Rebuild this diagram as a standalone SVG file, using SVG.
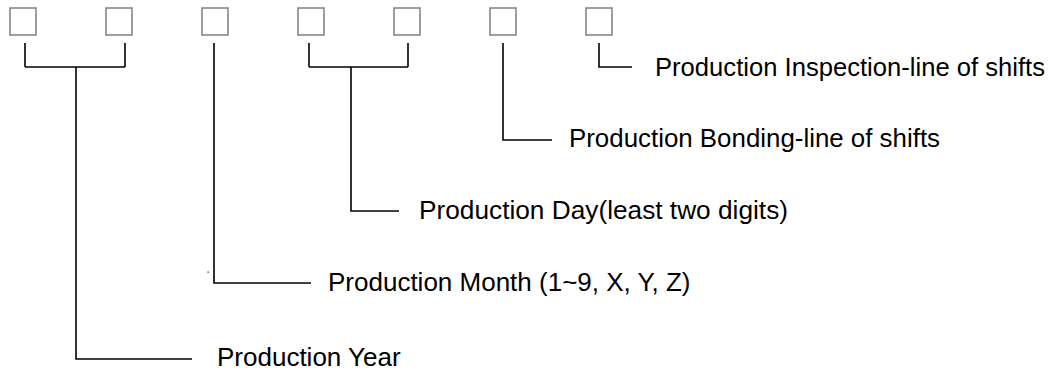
<svg xmlns="http://www.w3.org/2000/svg" width="1061" height="370" viewBox="0 0 1061 370">
  <style>
    .cell { fill: #ffffff; stroke: #7f7f7f; stroke-width: 1.5; }
    .lead { fill: none; stroke: #000000; stroke-width: 1.6; }
    .label { font-family: "Liberation Sans", Arial, sans-serif; font-size: 26px; fill: #000000; }
  </style>
  <rect width="1061" height="370" fill="#ffffff"/>

  <!-- code character cells -->
  <g id="cell-1"><rect class="cell" x="10" y="8" width="26" height="27"/></g>
  <g id="cell-2"><rect class="cell" x="106" y="8" width="26" height="27"/></g>
  <g id="cell-3"><rect class="cell" x="202" y="8" width="26" height="27"/></g>
  <g id="cell-4"><rect class="cell" x="298" y="8" width="26" height="27"/></g>
  <g id="cell-5"><rect class="cell" x="394" y="8" width="26" height="27"/></g>
  <g id="cell-6"><rect class="cell" x="490" y="8" width="26" height="27"/></g>
  <g id="cell-7"><rect class="cell" x="586" y="8" width="26" height="27"/></g>

  <!-- leader lines -->
  <g id="connectors">
    <!-- year: cells 1-2 -->
    <path class="lead" d="M25 43 V67 M125 43 V67 M25 67 H125 M76 67 V359 H192"/>
    <!-- month: cell 3 -->
    <path class="lead" d="M214 43 V283 H311"/>
    <rect x="207.5" y="271.5" width="1.2" height="1.2" fill="#000"/>
    <!-- day: cells 4-5 -->
    <path class="lead" d="M309 43 V67 M408 43 V67 M309 67 H408 M351 67 V211 H399"/>
    <!-- bonding line: cell 6 -->
    <path class="lead" d="M503 43 V140 H552"/>
    <!-- inspection line: cell 7 -->
    <path class="lead" d="M599 43 V67 H632"/>
  </g>

  <!-- labels -->
  <g id="label-inspection"><text class="label" x="655" y="76" textLength="390" lengthAdjust="spacingAndGlyphs">Production Inspection-line of shifts</text></g>
  <g id="label-bonding"><text class="label" x="569" y="147" textLength="371" lengthAdjust="spacingAndGlyphs">Production Bonding-line of shifts</text></g>
  <g id="label-day"><text class="label" x="419" y="219" textLength="369" lengthAdjust="spacingAndGlyphs">Production Day(least two digits)</text></g>
  <g id="label-month"><text class="label" x="328" y="291">Production Month (1~9, X, Y, Z)</text></g>
  <g id="label-year"><text class="label" x="217" y="366">Production Year</text></g>
</svg>
